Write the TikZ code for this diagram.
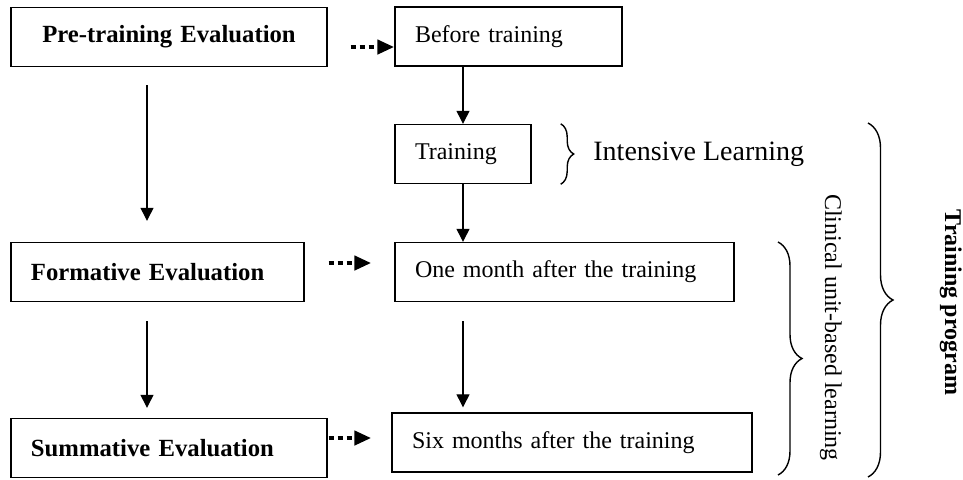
\documentclass[tikz,border=0pt]{standalone}
\usepackage{fontspec}
\setmainfont{Liberation Serif}
\usetikzlibrary{arrows.meta, decorations.pathreplacing, calc}

\tikzset{
  box/.style={draw, line width=0.7pt, minimum height=29.5pt, inner xsep=10pt, inner ysep=0pt,
    align=left, font=\fontsize{12}{14}\selectfont},
  evalbox/.style={box, font=\fontsize{12.35}{14}\selectfont\bfseries},
  flow/.style={line width=0.6pt, -{Triangle[length=6.5pt, width=6.5pt]}},
  dotflow/.style={line width=2.2pt, dash pattern=on 2.5pt off 2pt, -{Triangle[length=8.5pt, width=7pt]}},
  bracedeco/.style={decorate, line width=0.7pt, decoration={brace, amplitude=#1}},
}

\begin{document}
\begin{tikzpicture}[x=0.5pt, y=-0.5pt]
          \useasboundingbox (0,0) rectangle (963,479);
          % Evaluation stages on the left
          \node[evalbox, text width=138pt, align=center] (pre) at (169,37) {Pre-training Evaluation};
          \node[evalbox, text width=126.5pt] (formative) at (157.5,272) {Formative Evaluation};
          \node[evalbox, text width=138pt] (summative) at (169,448) {Summative Evaluation};
          % Time points on the right
          \node[box, text width=93.5pt] (before) at (508.5,36.5) {Before training};
          \node[box, text width=48pt] (training) at (463,154) {Training};
          \node[box, text width=149.5pt] (onemonth) at (564.5,272) {One month after the training};
          \node[box, text width=160pt] (sixmonths) at (572,442.5) {Six months after the training};
          % Arrows between the evaluations
          \draw[flow, shorten <=9pt, shorten >=10.5pt] ([xshift=-11pt]pre.south) -- ([xshift=-11pt]pre.south |- formative.north);
          \draw[flow, shorten <=9.5pt, shorten >=5pt] ([xshift=-5.25pt]formative.south) -- ([xshift=-5.25pt]formative.south |- summative.north);
          % Arrows between the time points
          \draw[flow] (before.south -| training.north) -- (training.north);
          \draw[flow] (training.south) -- (training.south |- onemonth.north);
          \draw[flow, shorten <=9.5pt, shorten >=2.5pt] (onemonth.south -| training.south) -- (sixmonths.north -| training.south);
          % Thick dotted links from each evaluation to its time point
          \draw[dotflow, shorten <=11.5pt] ([yshift=-5pt]pre.east) -- ([yshift=-5pt]pre.east -| before.west);
          \draw[dotflow, shorten <=12pt, shorten >=11.5pt] ([yshift=4.5pt]formative.east) -- ([yshift=4.5pt]formative.east -| onemonth.west);
          \draw[dotflow, shorten <=0.5pt, shorten >=10pt] ([yshift=5pt]summative.east) -- ([yshift=5pt]summative.east -| sixmonths.west);
          % Braces and their labels
          \draw[bracedeco=6.5pt] ([xshift=14.5pt]training.north east) -- ([xshift=14.5pt]training.south east);
          \node[anchor=base west, inner sep=0pt, font=\fontsize{14}{16}\selectfont] (intensive) at (593,160) {Intensive Learning};
          \draw[bracedeco=12pt] (778,242) -- (778,475);
          \node[rotate=-90, anchor=base, inner sep=0pt, font=\fontsize{12}{14}\selectfont] (clinical) at (825,327.5) {Clinical unit-based learning};
          \draw[bracedeco=12.5pt] (868,123) -- (868,477);
          \node[rotate=-90, anchor=base, inner sep=0pt, font=\fontsize{12}{14}\selectfont\bfseries] (program) at (945,302.5) {Training program};
      \end{tikzpicture}
\end{document}
